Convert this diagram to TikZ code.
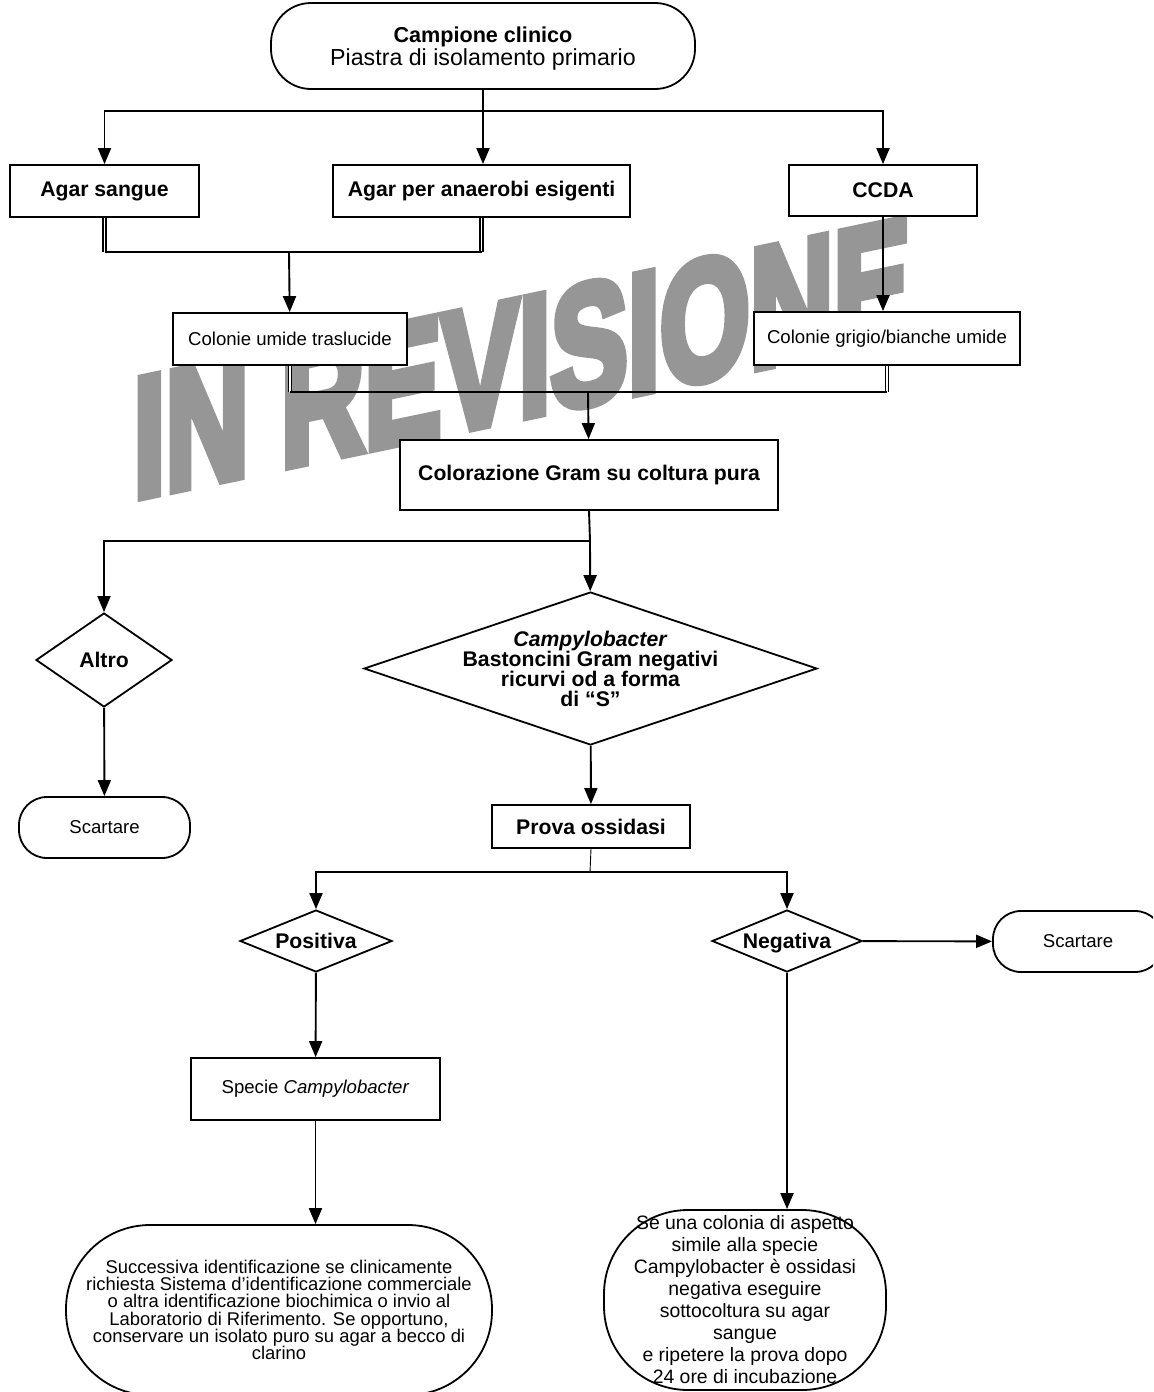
\documentclass[tikz,border=0pt]{standalone}
\usepackage{fontspec}
\setmainfont{Liberation Sans}
\newfontfamily\stampfont{Liberation Sans}[BoldFeatures={FakeBold=6}]
\usetikzlibrary{arrows.meta,shapes.geometric}
\definecolor{StampGray}{RGB}{150,150,150}
\tikzset{
    flowbox/.style={rectangle,draw=black,fill=white,line width=0.9pt,inner sep=0pt,align=center},
    termbox/.style={flowbox,rounded corners=#1},
    decision/.style={diamond,draw=black,fill=white,line width=0.9pt,inner sep=0pt,align=center,shape aspect=#1},
    dims/.style 2 args={minimum width=#1*0.5pt,minimum height=#2*0.5pt},
    boldtxt/.style={font=\fontsize{10.6}{11}\selectfont\bfseries},
    plaintxt/.style={font=\fontsize{9.3}{11}\selectfont},
    capsmid/.style={text height=7.6pt,text depth=0pt},
    link/.style={line width=0.95pt},
    thinlink/.style={line width=0.45pt},
    arrowlink/.style={line width=0.95pt,-{Triangle[length=8pt,width=6.5pt]}},
    twinlink/.style={double,double distance=0.9pt,line width=0.7pt},
    stamp/.style={StampGray,inner sep=0pt,transform shape,font=\fontsize{85}{85}\selectfont\stampfont\bfseries}
}

\begin{document}
\begin{tikzpicture}[x=0.5pt,y=-0.5pt]
		\useasboundingbox (0,0) rectangle (1153,1392);
		\clip (0,0) rectangle (1153,1392);
		% watermark
		\begin{scope}[cm={0.68,0.142,0,1,(133,498)}]
			\node[stamp,anchor=base west] (stamp) at (0,0) {IN REVISIONE};
		\end{scope}
		% sample and media
		\node[termbox=20pt,dims={424}{86},text depth=0pt,font=\fontsize{10.8}{11.2}\selectfont] (camp) at (483,46)
			{\textbf{Campione clinico}\\{\fontsize{11.6}{11.2}\selectfont Piastra di isolamento primario}};
		\node[flowbox,dims={189}{52},boldtxt] (agarS) at (104.5,191) {Agar sangue};
		\node[flowbox,dims={297}{52},boldtxt] (agarA) at (481.5,191) {Agar per anaerobi esigenti};
		\node[flowbox,dims={188}{51},boldtxt] (ccda) at (883,190.5) {CCDA};
		\coordinate (topsplit) at (483,111);
		\draw[arrowlink] (camp.south) -- (camp.south |- agarA.north);
		\draw[arrowlink] (topsplit) -| (agarS.north);
		\draw[arrowlink] (topsplit) -| (ccda.north);
		% colonies
		\node[flowbox,dims={234}{52},plaintxt] (umide) at (290,339) {Colonie umide traslucide};
		\node[flowbox,dims={266}{53},plaintxt] (grigio) at (887,338.5) {Colonie grigio/bianche umide};
		\coordinate (agarjoin) at (289,252);
		\draw[twinlink] (agarS.south) -- (agarS.south |- agarjoin);
		\draw[twinlink] (agarA.south) -- (agarA.south |- agarjoin);
		\draw[link] (agarS.south |- agarjoin) -- (agarA.south |- agarjoin);
		\draw[arrowlink] (agarjoin) -- (umide);
		\draw[arrowlink] (ccda.south) -- (ccda.south |- grigio.north);
		% Gram stain
		\node[flowbox,dims={378}{70},boldtxt] (gram) at (589,475) {Colorazione Gram su coltura pura};
		\coordinate (colonjoin) at (588,392);
		\draw[twinlink] (umide.south) -- (umide.south |- colonjoin);
		\draw[twinlink] (grigio.south) -- (grigio.south |- colonjoin);
		\draw[link] (umide.south |- colonjoin) -- (grigio.south |- colonjoin);
		\draw[arrowlink] (colonjoin) -- (gram);
		% decisions after Gram
		\node[decision=1.45,dims={136}{94},boldtxt,capsmid] (altro) at (104,660) {Altro};
		\node[decision=2.96,dims={453}{153},inner sep=-4pt,font=\fontsize{10.6}{10}\selectfont\bfseries] (campy) at (590.5,668.5)
			{\textit{Campylobacter}\\Bastoncini Gram negativi\\ricurvi od a forma\\di ``S''};
		\node[termbox=14pt,dims={171}{61},plaintxt] (scartL) at (104.5,827.5) {Scartare};
		\coordinate (gramsplit) at (590,541);
		\draw[link] (gram.south) -- (gramsplit);
		\draw[arrowlink] (gramsplit) -| (altro.north);
		\draw[arrowlink] (gramsplit) -- (campy);
		\draw[arrowlink] (altro) -- (scartL);
		% oxidase test
		\node[flowbox,dims={198}{43},boldtxt] (prova) at (591,826.5) {Prova ossidasi};
		\node[decision=2.45,dims={152}{62},boldtxt,capsmid] (pos) at (316,941) {Positiva};
		\node[decision=2.42,dims={150}{62},boldtxt,capsmid] (neg) at (787,941) {Negativa};
		\node[termbox=14pt,dims={170}{61},plaintxt] (scartR) at (1078,941.5) {Scartare};
		\coordinate (oxsplit) at (590,872);
		\draw[arrowlink] (campy) -- (prova);
		\draw[thinlink] (prova.south) -- (oxsplit);
		\draw[arrowlink] (oxsplit) -| (pos.north);
		\draw[arrowlink] (oxsplit) -| (neg.north);
		\draw[arrowlink] (neg) -- (scartR);
		% outcomes
		\node[flowbox,dims={249}{62},plaintxt] (specie) at (315.5,1089) {Specie \textit{Campylobacter}};
		\node[termbox=42pt,dims={426}{170},font=\fontsize{9.2}{8.6}\selectfont] (ident) at (279,1310)
			{Successiva identificazione se clinicamente\\richiesta Sistema d'identificazione commerciale\\o altra identificazione biochimica o invio al\\Laboratorio di Riferimento. Se opportuno,\\conservare un isolato puro su agar a becco di\\clarino};
		\node[termbox=42pt,dims={282}{180},font=\fontsize{9.7}{11}\selectfont] (retest) at (745,1300)
			{Se una colonia di aspetto\\simile alla specie\\Campylobacter è ossidasi\\negativa eseguire\\sottocoltura su agar\\sangue\\e ripetere la prova dopo\\24 ore di incubazione};
		\draw[arrowlink] (pos) -- (specie);
		\draw[arrowlink] (specie.south) -- (specie.south |- ident.north);
		\draw[arrowlink] (neg.south) -- (neg.south |- retest.north);
\end{tikzpicture}
\end{document}
